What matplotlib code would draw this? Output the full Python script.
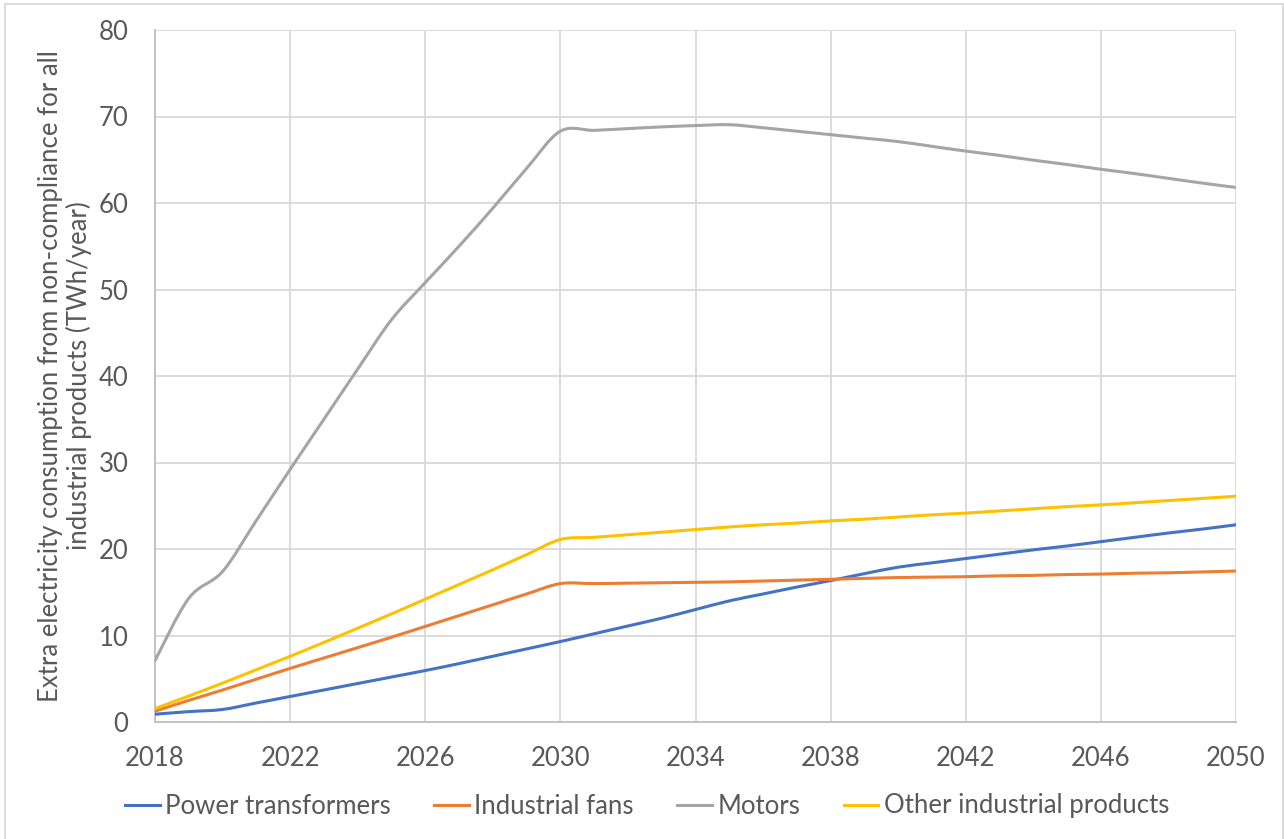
import matplotlib.pyplot as plt
from matplotlib.path import Path
from matplotlib.patches import PathPatch, Rectangle
from matplotlib.lines import Line2D

years = list(range(2018, 2051))
power_transformers = [0.9, 1.2, 1.45, 2.2, 2.95, 3.7, 4.45, 5.2, 5.95, 6.75, 7.6, 8.45, 9.3,
                      10.2, 11.1, 12.0, 13.0, 14.0, 14.8, 15.6, 16.35, 17.15, 17.9,
                      18.4, 18.9, 19.4, 19.9, 20.35, 20.85, 21.35, 21.85, 22.3, 22.8]
industrial_fans = [1.25, 2.5, 3.7, 4.95, 6.2, 7.4, 8.6, 9.8, 11.05, 12.3, 13.55, 14.8, 16.0,
                   16.0, 16.05, 16.1, 16.15, 16.2, 16.3, 16.4, 16.5, 16.6, 16.7,
                   16.75, 16.8, 16.9, 16.95, 17.05, 17.1, 17.2, 17.25, 17.35, 17.45]
motors = [7.1, 14.3, 17.4, 23.3, 29.2, 35.0, 40.8, 46.5, 50.8, 55.0, 59.4, 64.0, 68.3,
          68.4, 68.6, 68.8, 68.95, 69.05, 68.7, 68.3, 67.9, 67.5, 67.1,
          66.55, 66.0, 65.5, 64.95, 64.45, 63.9, 63.4, 62.85, 62.3, 61.8]
other_products = [1.55, 3.0, 4.5, 6.05, 7.6, 9.2, 10.85, 12.5, 14.2, 15.9, 17.6, 19.35, 21.1,
                  21.35, 21.65, 21.95, 22.25, 22.55, 22.8, 23.0, 23.25, 23.45, 23.7,
                  23.95, 24.15, 24.4, 24.65, 24.9, 25.1, 25.35, 25.6, 25.85, 26.1]

series = [
    ('Power transformers', power_transformers, '#4472C4'),
    ('Industrial fans', industrial_fans, '#ED7D31'),
    ('Motors', motors, '#A5A5A5'),
    ('Other industrial products', other_products, '#FFC000'),
]

x_ticks = list(range(2018, 2051, 4))
y_ticks = list(range(0, 81, 10))

text_color = '#595959'
grid_color = '#d9d9d9'
font = 'Lato'
fsize = 18.5


def smooth_path(xs, ys):
    # bezier segments like a spreadsheet "smoothed line"
    pts = list(zip(xs, ys))
    verts = [pts[0]]
    codes = [Path.MOVETO]
    n = len(pts)
    for i in range(n - 1):
        p0 = pts[i - 1] if i > 0 else pts[i]
        p1 = pts[i]
        p2 = pts[i + 1]
        p3 = pts[i + 2] if i + 2 < n else pts[i + 1]
        c1 = (p1[0] + (p2[0] - p0[0]) / 6, p1[1] + (p2[1] - p0[1]) / 6)
        c2 = (p2[0] - (p3[0] - p1[0]) / 6, p2[1] - (p3[1] - p1[1]) / 6)
        verts += [c1, c2, p2]
        codes += [Path.CURVE4] * 3
    return Path(verts, codes)


fig = plt.figure(figsize=(12.84, 8.39), dpi=100)
ax = fig.add_axes([155 / 1284, 1 - 722 / 839, (1236 - 155) / 1284, (722 - 30) / 839])

handles = []
for name, values, color in series:
    patch = PathPatch(smooth_path(years, values), facecolor='none', edgecolor=color,
                      lw=2.2, capstyle='round', joinstyle='round', zorder=3)
    ax.add_patch(patch)
    handles.append(Line2D([], [], color=color, lw=2.2, label=name))

ax.set_xlim(2018, 2050)
ax.set_ylim(0, 80)
ax.set_xticks(x_ticks)
ax.set_yticks(y_ticks)
ax.grid(True, color=grid_color, lw=1.3)
ax.set_axisbelow(True)
for side in ['top', 'right']:
    ax.spines[side].set_visible(False)
for side in ['left', 'bottom']:
    ax.spines[side].set_color('#bfbfbf')
    ax.spines[side].set_linewidth(1.3)
ax.tick_params(length=0, labelcolor=text_color, labelsize=fsize)
ax.tick_params(axis='x', pad=17)
ax.tick_params(axis='y', pad=19)
for lbl in ax.get_xticklabels() + ax.get_yticklabels():
    lbl.set_fontfamily(font)

ax.set_ylabel('Extra electricity consumption from non-compliance for all\nindustrial products (TWh/year)',
              fontsize=fsize, color=text_color, fontfamily=font, linespacing=1.15, labelpad=5)

fig.legend(handles=handles, loc='center', bbox_to_anchor=(647 / 1284, 1 - 806 / 839), ncol=4,
           frameon=False, handlelength=1.35, handletextpad=0.2, columnspacing=1.7,
           prop={'family': font, 'size': fsize}, labelcolor=text_color)

fig.patches.append(Rectangle((5 / 1284, -0.01), 1278 / 1284, 1.01 - 4 / 839, transform=fig.transFigure,
                             facecolor='none', edgecolor=grid_color, lw=1.3))

fig.savefig('out.png', dpi=100)
